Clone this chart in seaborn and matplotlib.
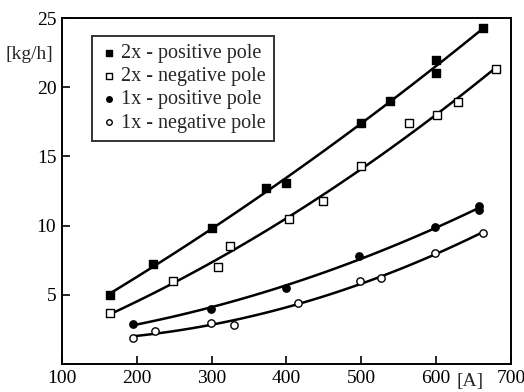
import matplotlib
matplotlib.use("Agg")
import matplotlib.pyplot as plt
import seaborn as sns
import numpy as np

# --- data ---
x_2x_pos = [165, 222, 300, 373, 400, 500, 538, 600, 600, 663]
y_2x_pos = [5.0, 7.2, 9.8, 12.7, 13.1, 17.4, 19.0, 22.0, 21.0, 24.3]

x_2x_neg = [165, 248, 309, 325, 403, 449, 500, 564, 601, 629, 680]
y_2x_neg = [3.7, 6.0, 7.0, 8.5, 10.5, 11.8, 14.3, 17.4, 18.0, 18.9, 21.3]

x_1x_pos = [195, 299, 399, 497, 599, 658, 658]
y_1x_pos = [2.9, 4.0, 5.5, 7.8, 9.9, 11.4, 11.1]

x_1x_neg = [195, 224, 299, 330, 416, 499, 527, 599, 663]
y_1x_neg = [1.9, 2.4, 3.0, 2.8, 4.4, 6.0, 6.2, 8.0, 9.5]

labels = ["2x - positive pole", "2x - negative pole",
          "1x - positive pole", "1x - negative pole"]
x_ticks = [100, 200, 300, 400, 500, 600, 700]
x_ticklabels = ["100", "200", "300", "400", "500", "600", "700"]
y_ticks = [5, 10, 15, 20, 25]

sns.set_style("ticks")
plt.rcParams["font.family"] = ["Liberation Serif", "DejaVu Serif"]

fig = plt.figure(figsize=(5.24, 3.92), dpi=100)
ax = fig.add_axes([0.118, 0.071, 0.857, 0.883])

series = [
    (x_2x_pos, y_2x_pos, "s", "black", 36),
    (x_2x_neg, y_2x_neg, "s", "white", 36),
    (x_1x_pos, y_1x_pos, "o", "black", 28),
    (x_1x_neg, y_1x_neg, "o", "white", 28),
]

for (xs, ys, mk, fc, sz), lab in zip(series, labels):
    sns.regplot(x=np.array(xs, float), y=np.array(ys, float), order=2, ci=None,
                scatter=False, ax=ax, line_kws=dict(color="black", lw=1.8))
    sns.scatterplot(x=xs, y=ys, marker=mk, color=fc, edgecolor="black",
                    linewidth=1.0, s=sz, ax=ax, label=lab, zorder=3)

ax.set_xlim(100, 700)
ax.set_ylim(0, 25)
ax.set_xticks(x_ticks)
ax.set_xticklabels(x_ticklabels)
ax.set_yticks(y_ticks)
ax.tick_params(direction="in", length=6, width=1.2, labelsize=14, colors="black",
               pad=4)
for sp in ax.spines.values():
    sp.set_visible(True)
    sp.set_color("black")
    sp.set_linewidth(1.4)
ax.set_xlabel("")
ax.set_ylabel("")

ax.text(-0.02, 0.895, "[kg/h]", transform=ax.transAxes, ha="right", va="center",
        fontsize=14)
ax.text(0.91, -0.025, "[A]", transform=ax.transAxes, ha="center", va="top",
        fontsize=14)

leg = ax.legend(loc="upper left", bbox_to_anchor=(0.067, 0.948), fontsize=14.5,
                frameon=True, fancybox=False, edgecolor="black",
                handletextpad=0.15, handlelength=0.9, borderpad=0.4,
                borderaxespad=0, labelspacing=0.2, markerscale=0.75)
leg.get_frame().set_linewidth(1.4)

fig.savefig("out.png", dpi=100)
